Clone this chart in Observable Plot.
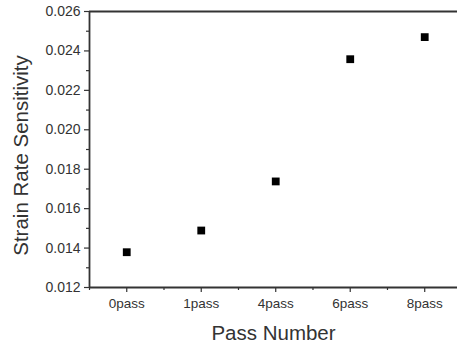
<!DOCTYPE html>
<html>
<head>
<meta charset="utf-8">
<script src="https://cdn.jsdelivr.net/npm/d3@7"></script>
<script src="https://cdn.jsdelivr.net/npm/@observablehq/plot@0.6"></script>
<style>
  html, body { margin: 0; padding: 0; background: #fff; }
  svg { display: block; }
</style>
</head>
<body>
<div id="chart"></div>
<script>
const categories = ["0pass", "1pass", "4pass", "6pass", "8pass"];
const sensitivity = [0.01379, 0.01489, 0.01738, 0.02358, 0.02470];
const yTicks = [0.012, 0.014, 0.016, 0.018, 0.020, 0.022, 0.024, 0.026];
const yMinorTicks = [0.013, 0.015, 0.017, 0.019, 0.021, 0.023, 0.025];

const data = categories.map((c, i) => ({pos: i + 1, cat: c, value: sensitivity[i]}));
const xTicks = categories.map((c, i) => i + 1);
const xMinorTicks = categories.map((c, i) => i + 1.5).concat([0.5]);

const font = "Liberation Sans, Arial, sans-serif";
const ink = "#333";

const chart = Plot.plot({
  width: 457,
  height: 347,
  marginLeft: 89,
  marginRight: 0,
  marginTop: 11,
  marginBottom: 60,
  style: {fontFamily: font, fontSize: "13px", color: ink, background: "#fff"},
  x: {type: "linear", domain: [0.5, 5.44]},
  y: {domain: [0.012, 0.026]},
  marks: [
    Plot.axisY(yMinorTicks, {tickSize: 3, tickFormat: () => "", label: null, stroke: ink, strokeWidth: 1.2}),
    Plot.axisY(yTicks, {
      tickSize: 5, tickPadding: 4, tickFormat: d3.format(".3f"), stroke: ink, strokeWidth: 1.2,
      fontSize: 14, fill: ink,
      label: "Strain Rate Sensitivity", labelAnchor: "center", labelArrow: "none", labelOffset: 76
    }),
    Plot.axisX(xMinorTicks, {tickSize: 3, tickFormat: () => "", label: null, stroke: ink, strokeWidth: 1.2}),
    Plot.axisX(xTicks, {
      tickSize: 5, tickPadding: 6, tickFormat: d => categories[d - 1], stroke: ink, strokeWidth: 1.2,
      fontSize: 13.5, fill: ink,
      label: "Pass Number", labelAnchor: "center", labelArrow: "none", labelOffset: 52
    }),
    Plot.ruleY([0.012, 0.026], {stroke: ink, strokeWidth: 1.8}),
    Plot.ruleX([0.5], {stroke: ink, strokeWidth: 1.8}),
    Plot.dot(data, {x: "pos", y: "value", symbol: "square", r: 4.4, fill: "#000", stroke: "none"})
  ]
});

// enlarge axis titles
chart.querySelectorAll("g[aria-label='y-axis label'] text, g[aria-label='x-axis label'] text").forEach(t => {
  t.setAttribute("font-size", "20.5");
  t.style.fontSize = "20.5px";
  t.setAttribute("fill", ink);
});
const yl = chart.querySelector("g[aria-label='y-axis label']");
if (yl) yl.setAttribute("transform", (yl.getAttribute("transform") || "") + " translate(0,6)");

document.getElementById("chart").appendChild(chart);
</script>
</body>
</html>
